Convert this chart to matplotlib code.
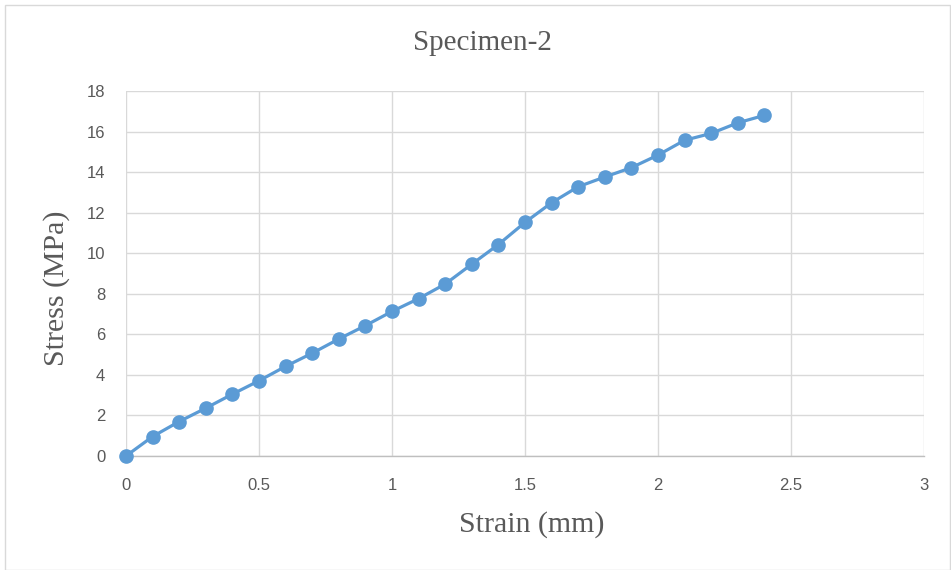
import numpy as np
import matplotlib
matplotlib.use("Agg")
import matplotlib.pyplot as plt
from matplotlib.patches import Rectangle

# ===== 数据 =====
strain = [0, 0.1, 0.2, 0.3, 0.4, 0.5, 0.6, 0.7, 0.8, 0.9, 1.0, 1.1, 1.2,
          1.3, 1.4, 1.5, 1.6, 1.7, 1.8, 1.9, 2.0, 2.1, 2.2, 2.3, 2.4]
stress = [0, 0.96, 1.70, 2.36, 3.05, 3.71, 4.42, 5.07, 5.77, 6.43, 7.13, 7.76, 8.48,
          9.46, 10.43, 11.52, 12.49, 13.28, 13.76, 14.22, 14.84, 15.57, 15.91, 16.43, 16.80]
x_ticks = [0, 0.5, 1, 1.5, 2, 2.5, 3]
x_tick_labels = ["0", "0.5", "1", "1.5", "2", "2.5", "3"]
y_ticks = list(range(0, 19, 2))

line_color = "#5b9bd5"
grid_color = "#d9d9d9"
text_color = "#595959"

W, H = 951, 570
fig = plt.figure(figsize=(W / 100, H / 100), dpi=100)
ax = fig.add_axes([126 / W, 1 - 456 / H, (924 - 126) / W, (456 - 91) / H])

# 外框
fig.patches.append(Rectangle((5 / W, 0), 1 - 6 / W, 1 - 5 / H, transform=fig.transFigure,
                             fill=False, edgecolor="#d9d9d9", linewidth=1.0))

ax.plot(strain, stress, color=line_color, linewidth=2.3, marker="o",
        markersize=9.5, markerfacecolor=line_color, markeredgecolor=line_color,
        clip_on=False, zorder=3)

ax.set_xlim(0, 3)
ax.set_ylim(0, 18)
ax.set_xticks(x_ticks)
ax.set_xticklabels(x_tick_labels)
ax.set_yticks(y_ticks)
ax.grid(True, color=grid_color, linewidth=1.0)
ax.set_axisbelow(True)
for s in ["top", "right", "left"]:
    ax.spines[s].set_visible(False)
ax.spines["bottom"].set_color("#bfbfbf")
ax.spines["bottom"].set_linewidth(1.0)
ax.tick_params(length=0, labelsize=12, labelcolor=text_color)
ax.tick_params(axis="x", pad=16)
ax.tick_params(axis="y", pad=15)
for lab in ax.get_xticklabels() + ax.get_yticklabels():
    lab.set_family("Liberation Sans")

serif = ["Liberation Serif", "DejaVu Serif"]
fig.text(482 / W, 1 - 43 / H, "Specimen-2", ha="center", va="center",
         fontsize=21, family=serif, color=text_color)
fig.text(532 / W, 1 - 525 / H, "Strain (mm)", ha="center", va="center",
         fontsize=21.5, family=serif, color=text_color)
fig.text(57 / W, 1 - 288 / H, "Stress (MPa)", ha="center", va="center",
         fontsize=21.5, family=serif, color=text_color, rotation=90)

fig.savefig("out.png", dpi=100)
